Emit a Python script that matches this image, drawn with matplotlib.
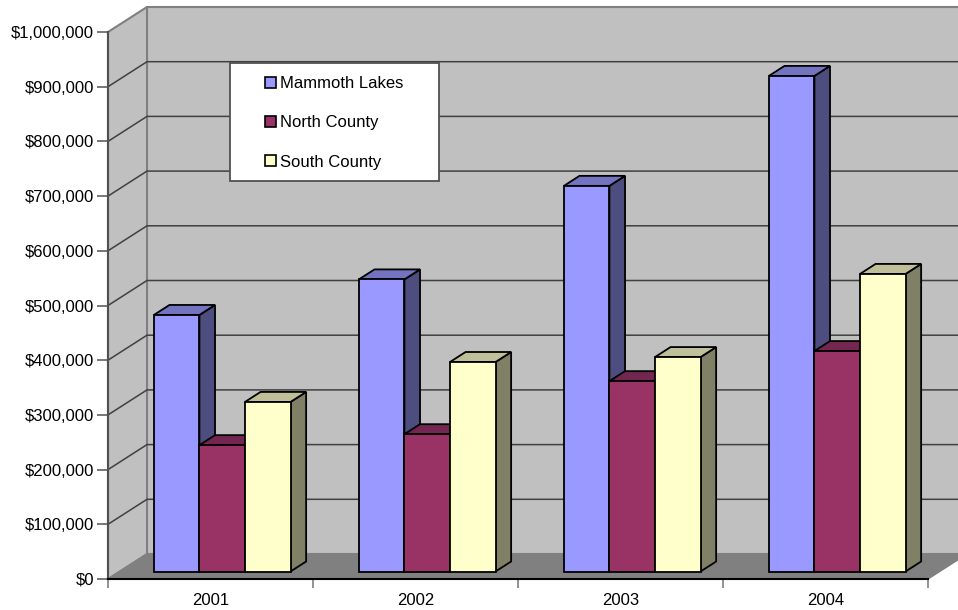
import matplotlib
matplotlib.use("Agg")
import matplotlib.pyplot as plt
from matplotlib.patches import Polygon, Rectangle
from matplotlib.ticker import StrMethodFormatter

plt.rcParams['font.family'] = ['Liberation Sans', 'DejaVu Sans']

years = ["2001", "2002", "2003", "2004"]
series_names = ["Mammoth Lakes", "North County", "South County"]
mammoth = [469000, 534000, 705000, 906000]
north = [231000, 251000, 348000, 403000]
south = [310000, 383000, 392000, 544000]
series_values = [mammoth, north, south]

front_colors = ["#9999FF", "#993366", "#FFFFCC"]
top_colors = ["#7373BF", "#732650", "#BFBF99"]
side_colors = ["#4D4D80", "#4D1A33", "#808066"]

W, H = 958, 610
LEFT, RIGHT, BOTTOM, TOP = 108, 928, 579, 32  # pixels of the front plane

fig = plt.figure(figsize=(W / 100, H / 100), dpi=100)
ax = fig.add_axes([LEFT / W, (H - BOTTOM) / H, (RIGHT - LEFT) / W, (BOTTOM - TOP) / H])
ax.set_xlim(0, 4)
ax.set_ylim(0, 1000000)

# depth of the box, in data units
DX = 39 / ((RIGHT - LEFT) / 4)
DY = 25 / ((BOTTOM - TOP) / 1000000)


def pt(x, y, d=0.0):
    return (x + d * DX, y + d * DY)


def face(points, color, edge, lw=1.3, z=2):
    ax.add_patch(Polygon(points, closed=True, facecolor=color, edgecolor=edge,
                         linewidth=lw, joinstyle="miter", clip_on=False, zorder=z))


# walls and floor
face([pt(0, 0, 1), pt(4, 0, 1), pt(4, 1000000, 1), pt(0, 1000000, 1)], "#C0C0C0", "#808080", 1.5, 1)
face([pt(0, 0), pt(0, 0, 1), pt(0, 1000000, 1), pt(0, 1000000)], "#C0C0C0", "#808080", 1.5, 1)
face([pt(0, 0), pt(4, 0), pt(4, 0, 1), pt(0, 0, 1)], "#808080", "#808080", 1.0, 1)

# gridlines on both walls
for v in range(100000, 1000000, 100000):
    xs, ys = zip(pt(0, v), pt(0, v, 1), pt(4, v, 1))
    ax.plot(xs, ys, color="#404040", lw=1.1, clip_on=False, zorder=1.5)

# the bars
bar_w = 1 / 4.5
gap = 0.75 * bar_w
for i in range(len(years)):
    for s in range(len(series_names)):
        v = series_values[s][i]
        x0 = i + gap + s * bar_w
        x1 = x0 + bar_w
        face([pt(x1, 0, 0.3), pt(x1, 0, 0.7), pt(x1, v, 0.7), pt(x1, v, 0.3)], side_colors[s], "black", z=2 + i + s * 0.1)
        face([pt(x0, v, 0.3), pt(x1, v, 0.3), pt(x1, v, 0.7), pt(x0, v, 0.7)], top_colors[s], "black", z=2 + i + s * 0.1)
        face([pt(x0, 0, 0.3), pt(x1, 0, 0.3), pt(x1, v, 0.3), pt(x0, v, 0.3)], front_colors[s], "black", z=2 + i + s * 0.1)

# axes
for name in ["top", "right"]:
    ax.spines[name].set_visible(False)
ax.patch.set_visible(False)
ax.spines["left"].set_color("#505050")
ax.spines["left"].set_linewidth(1.5)
ax.spines["bottom"].set_color("black")
ax.spines["bottom"].set_linewidth(1.5)
ax.spines["left"].set_zorder(1.6)
ax.spines["bottom"].set_zorder(1.6)

ax.set_yticks(range(0, 1000001, 100000))
ax.yaxis.set_major_formatter(StrMethodFormatter("${x:,.0f}"))
ax.tick_params(axis="y", length=8, width=1.2, color="#606060", pad=2, labelsize=12, labelcolor="black")
ax.set_xticks(range(5))
ax.set_xticklabels([])
ax.tick_params(axis="x", which="major", length=6.5, width=1.2, color="#808080")
ax.set_xticks([i + 0.5 for i in range(4)], labels=years, minor=True)
ax.tick_params(axis="x", which="minor", length=0, pad=10, labelsize=12)

# legend box
fig.add_artist(Rectangle((229.5 / W, 1 - 181 / H), 209.5 / W, 118 / H, facecolor="white",
                         edgecolor="#505050", linewidth=1.3, transform=fig.transFigure, zorder=20))
handles = [Rectangle((0, 0), 1, 1, facecolor=front_colors[s], edgecolor="black", linewidth=1.2)
           for s in range(3)]
leg = fig.legend(handles, series_names, loc="upper left", bbox_to_anchor=(264.5 / W, 1 - 76 / H),
                 frameon=False, fontsize=12, borderpad=0, borderaxespad=0,
                 handlelength=0.66, handleheight=0.66, handletextpad=0.25, labelspacing=1.46)
leg.set_zorder(21)

fig.savefig("out.png", dpi=100)
